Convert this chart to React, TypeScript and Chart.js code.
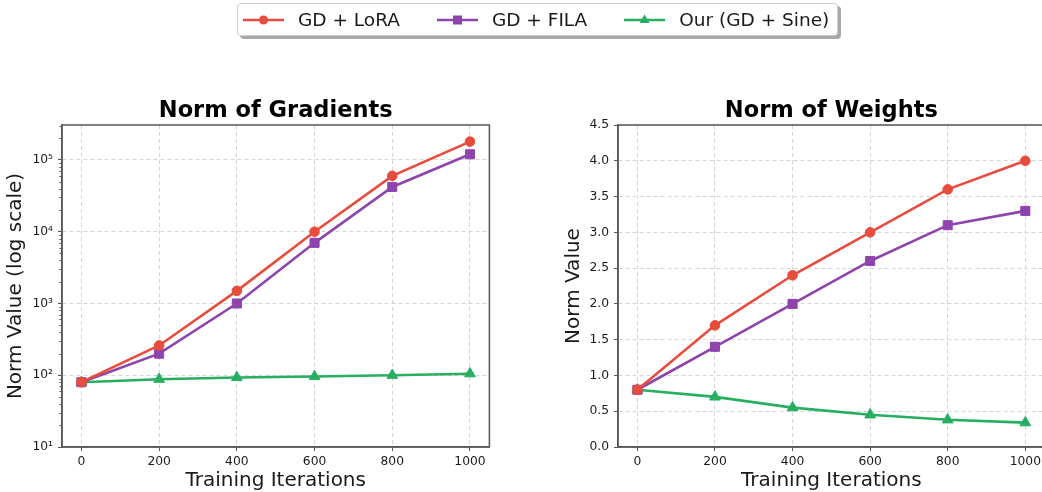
import React, { useEffect, useRef } from 'react';
import { Chart, registerables } from 'chart.js';

Chart.register(...registerables);

// ---------- data ----------
const iterations = [0, 200, 400, 600, 800, 1000];
const seriesNames = ['GD + LoRA', 'GD + FILA', 'Our (GD + Sine)'];
const gradLoRA = [80, 260, 1500, 10000, 60000, 180000];
const gradFILA = [80, 200, 1000, 7000, 42000, 120000];
const gradSine = [80, 88, 93, 96, 100, 105];
const weightLoRA = [0.8, 1.7, 2.4, 3.0, 3.6, 4.0];
const weightFILA = [0.8, 1.4, 2.0, 2.6, 3.1, 3.3];
const weightSine = [0.8, 0.7, 0.55, 0.45, 0.38, 0.34];
const logMajorTicks = [10, 100, 1000, 10000, 100000];
const logTickLabels = ['10¹', '10²', '10³', '10⁴', '10⁵'];
const weightTicks = [0, 0.5, 1.0, 1.5, 2.0, 2.5, 3.0, 3.5, 4.0, 4.5];

// ---------- styles ----------
const FONT = "'DejaVu Sans', 'Liberation Sans', sans-serif";
const COLORS = ['#e74c3c', '#8e44ad', '#27ae60'];
const SHAPES = ['circle', 'rect', 'triangle'];
const RADII = [4.8, 6.4, 6.2];
const SPINE = '#555555';
const GRID = '#d6d6d6';
const TEXT = '#1a1a1a';

const framePlugin = {
  id: 'frame',
  afterDraw(chart: any) {
    const { ctx, chartArea: a } = chart;
    ctx.save();
    ctx.strokeStyle = SPINE;
    ctx.lineWidth = 1.5;
    ctx.setLineDash([]);
    ctx.strokeRect(a.left, a.top, a.right - a.left, a.bottom - a.top);
    ctx.restore();
  },
};

const minorTickPlugin = {
  id: 'minorTicks',
  afterDraw(chart: any) {
    const y = chart.scales.y;
    if (!y || y.type !== 'logarithmic') return;
    const { ctx, chartArea: a } = chart;
    ctx.save();
    ctx.strokeStyle = SPINE;
    ctx.lineWidth = 1;
    ctx.beginPath();
    for (const d of logMajorTicks) {
      for (let m = 2; m <= 9; m++) {
        const py = y.getPixelForValue(m * d);
        if (py < a.top || py > a.bottom) continue;
        ctx.moveTo(a.left - 2.5, Math.round(py) + 0.5);
        ctx.lineTo(a.left, Math.round(py) + 0.5);
      }
    }
    ctx.stroke();
    ctx.restore();
  },
};

function makeDatasets(values: number[][]) {
  return values.map((vals, i) => ({
    label: seriesNames[i],
    data: iterations.map((x, j) => ({ x, y: vals[j] })),
    borderColor: COLORS[i],
    backgroundColor: COLORS[i],
    pointBackgroundColor: COLORS[i],
    pointBorderColor: COLORS[i],
    pointStyle: SHAPES[i],
    pointRadius: RADII[i],
    pointBorderWidth: 1,
    borderWidth: 2.6,
    tension: 0,
  }));
}

function buildOptions(cfg: {
  title: string;
  yTitle: string;
  yAxisWidth: number;
  yTitlePad: number;
  padRight: number;
  log: boolean;
}) {
  const yScale: any = cfg.log
    ? {
        type: 'logarithmic',
        min: 10,
        max: 307000,
        afterBuildTicks: (s: any) => {
          s.ticks = logMajorTicks.map((v) => ({ value: v, major: true }));
        },
        ticks: {
          callback: (v: any) => {
            const idx = logMajorTicks.indexOf(Number(v));
            return idx >= 0 ? logTickLabels[idx] : '';
          },
        },
      }
    : {
        type: 'linear',
        min: 0,
        max: 4.5,
        afterBuildTicks: (s: any) => {
          s.ticks = weightTicks.map((v) => ({ value: v }));
        },
        ticks: {
          callback: (v: any) => Number(v).toFixed(1),
        },
      };

  const common = {
    grid: { color: GRID, lineWidth: 1, tickColor: SPINE, tickLength: 4, drawTicks: true },
    border: { color: SPINE, width: 1.5, dash: [4, 3] },
  };

  return {
    animation: false,
    responsive: true,
    maintainAspectRatio: false,
    layout: { padding: { left: 0, right: cfg.padRight, top: 0, bottom: 0 } },
    plugins: {
      legend: { display: false },
      tooltip: { enabled: false },
      title: {
        display: true,
        text: cfg.title,
        color: '#000',
        fullSize: false,
        font: { family: FONT, size: 22.5, weight: 'bold', lineHeight: 1.2 },
        padding: { top: 97.2, bottom: 0.8 },
      },
    },
    scales: {
      x: {
        type: 'linear',
        min: -50,
        max: 1050,
        afterBuildTicks: (s: any) => {
          s.ticks = iterations.map((v) => ({ value: v }));
        },
        afterFit: (s: any) => {
          s.height = 45;
        },
        ticks: {
          color: TEXT,
          font: { family: FONT, size: 12.3 },
          padding: 3,
          maxRotation: 0,
          autoSkip: false,
          callback: (v: any) => String(v),
        },
        title: {
          display: true,
          text: 'Training Iterations',
          color: TEXT,
          font: { family: FONT, size: 20, lineHeight: 1 },
          padding: { top: 0, bottom: 1 },
        },
        ...common,
      },
      y: {
        ...yScale,
        afterFit: (s: any) => {
          s.width = cfg.yAxisWidth;
        },
        ticks: {
          ...yScale.ticks,
          color: TEXT,
          font: { family: FONT, size: 12.3 },
          padding: 5,
          autoSkip: false,
        },
        title: {
          display: true,
          text: cfg.yTitle,
          color: TEXT,
          font: { family: FONT, size: 20, lineHeight: 1.2 },
          padding: { top: cfg.yTitlePad, bottom: 0 },
        },
        ...common,
      },
    },
  };
}

function ChartPanel(props: {
  left: number;
  width: number;
  values: number[][];
  title: string;
  yTitle: string;
  yAxisWidth: number;
  yTitlePad: number;
  padRight: number;
  log: boolean;
}) {
  const ref = useRef<HTMLCanvasElement | null>(null);
  useEffect(() => {
    if (!ref.current) return;
    const chart = new Chart(ref.current, {
      type: 'line',
      data: { datasets: makeDatasets(props.values) as any },
      options: buildOptions(props) as any,
      plugins: [framePlugin, minorTickPlugin],
    });
    return () => chart.destroy();
  }, []);
  return (
    <div style={{ position: 'absolute', left: props.left, top: 0, width: props.width, height: 492 }}>
      <canvas ref={ref} />
    </div>
  );
}

function LegendIcon({ index }: { index: number }) {
  const c = COLORS[index];
  let marker: React.ReactNode = null;
  if (index === 0) marker = <circle cx={20.5} cy={10} r={4.5} fill={c} />;
  else if (index === 1) marker = <rect x={16} y={5.5} width={9} height={9} fill={c} />;
  else marker = <polygon points="20.5,4.5 25.5,13 15.5,13" fill={c} />;
  return (
    <svg width={41} height={20} style={{ display: 'block' }}>
      <line x1={0} y1={10} x2={41} y2={10} stroke={c} strokeWidth={2.6} />
      {marker}
    </svg>
  );
}

function Legend() {
  return (
    <div
      style={{
        position: 'absolute',
        left: 237,
        top: 3,
        height: 31,
        display: 'flex',
        alignItems: 'center',
        padding: '0 8px 0 5px',
        border: '1px solid #cccccc',
        borderRadius: 4,
        background: '#fff',
        boxShadow: '3px 3px 0 #a8a8a8',
        fontFamily: FONT,
        fontSize: 18.5,
        color: TEXT,
        whiteSpace: 'nowrap',
      }}
    >
      {seriesNames.map((name, i) => (
        <div key={name} style={{ display: 'flex', alignItems: 'center', marginLeft: i === 0 ? 0 : 37 }}>
          <LegendIcon index={i} />
          <span style={{ marginLeft: 14 }}>{name}</span>
        </div>
      ))}
    </div>
  );
}

export default function App() {
  return (
    <div
      style={{
        position: 'fixed',
        left: 0,
        top: 0,
        width: 1042,
        height: 492,
        overflow: 'hidden',
        background: '#fff',
      }}
    >
      <ChartPanel
        left={0}
        width={500}
        values={[gradLoRA, gradFILA, gradSine]}
        title="Norm of Gradients"
        yTitle="Norm Value (log scale)"
        yAxisWidth={62}
        yTitlePad={4}
        padRight={10.6}
        log={true}
      />
      <ChartPanel
        left={530}
        width={530}
        values={[weightLoRA, weightFILA, weightSine]}
        title="Norm of Weights"
        yTitle="Norm Value"
        yAxisWidth={88}
        yTitlePad={31.5}
        padRight={15.3}
        log={false}
      />
      <Legend />
    </div>
  );
}
